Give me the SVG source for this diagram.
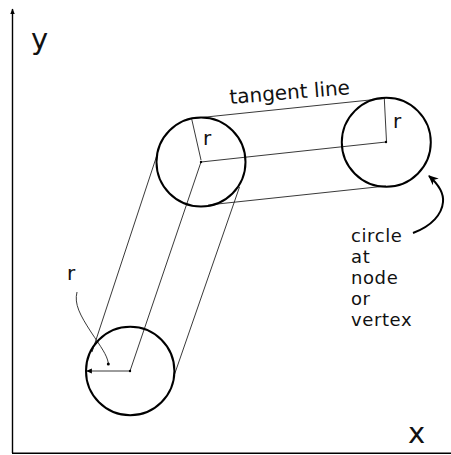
<svg xmlns="http://www.w3.org/2000/svg" width="451" height="455" viewBox="0 0 451 455">
<defs>
<style>
.node{fill:none;stroke:#000;stroke-width:2}
.thin{fill:none;stroke:#222;stroke-width:0.9}
.axis{fill:none;stroke:#000;stroke-width:1.4}
text{font-family:"DejaVu Sans","Liberation Sans",sans-serif;fill:#111}
.lbl{font-size:20px}
.stack{font-size:18px;letter-spacing:0.6px}
.ax{font-size:29px}
</style>
<marker id="tri" viewBox="0 0 10 10" refX="9" refY="5" markerWidth="6" markerHeight="6" markerUnits="userSpaceOnUse" orient="auto">
<path d="M0,1 L10,5 L0,9 Z" fill="#000"/>
</marker>
<marker id="big" viewBox="0 0 10 10" refX="9" refY="5" markerWidth="10" markerHeight="10" markerUnits="userSpaceOnUse" orient="auto">
<path d="M0,0.5 L10,5 L0,9.5 L3,5 Z" fill="#000"/>
</marker>
</defs>
<rect width="451" height="455" fill="#fff"/>
<g id="axes">
<line class="axis" x1="12.5" y1="453" x2="12.5" y2="9" marker-end="url(#tri)"/>
<line class="axis" x1="12" y1="453.3" x2="451" y2="453.3"/>
<text class="ax" x="31" y="49">y</text>
<text class="ax" x="408" y="443">x</text>
</g>
<g id="connectors">
<line class="thin" x1="201" y1="162" x2="386" y2="142"/>
<line class="thin" x1="201" y1="162" x2="130" y2="371"/>
<line class="thin" x1="191.7" y1="118.5" x2="384.3" y2="98.5"/>
<line class="thin" x1="208" y1="205" x2="386" y2="186"/>
<line class="thin" x1="157" y1="155" x2="92" y2="352"/>
<line class="thin" x1="239.5" y1="187" x2="174.3" y2="375"/>
<line class="thin" x1="201" y1="160" x2="191.7" y2="119"/>
<line class="thin" x1="386.5" y1="141.7" x2="384.3" y2="98.5"/>
<line class="thin" x1="130" y1="371" x2="86.5" y2="371" stroke-width="1.3" marker-end="url(#tri)"/>
<path class="thin" d="M77,292 C74,304 80,315 91,332 C101,347 107,355 108.3,363" stroke-width="1.1"/>
<circle cx="108.3" cy="364" r="1.5" fill="#000"/>
<circle cx="201" cy="162" r="1.2" fill="#000"/>
<circle cx="386" cy="142" r="1.2" fill="#000"/>
<circle cx="130" cy="371" r="1.2" fill="#000"/>
<path d="M413,233 C432,226 442,214 443,202 C444,192 438,184 429,176" fill="none" stroke="#000" stroke-width="2" marker-end="url(#big)"/>
</g>
<g id="node1"><circle class="node" cx="201" cy="162" r="44.5"/><text class="lbl" x="203" y="145">r</text></g>
<g id="node2"><circle class="node" cx="386.3" cy="142.3" r="44.5"/><text class="lbl" x="393" y="128">r</text></g>
<g id="node3"><circle class="node" cx="130.2" cy="371" r="44.2"/></g>
<g id="labels">
<text class="lbl" x="230" y="104" transform="rotate(-4.6 230 104)">tangent line</text>
<text class="lbl" x="67" y="280">r</text>
<text class="stack" x="351" y="242">circle</text>
<text class="stack" x="351" y="263">at</text>
<text class="stack" x="351" y="284">node</text>
<text class="stack" x="351" y="305">or</text>
<text class="stack" x="351" y="326">vertex</text>
</g>
</svg>
